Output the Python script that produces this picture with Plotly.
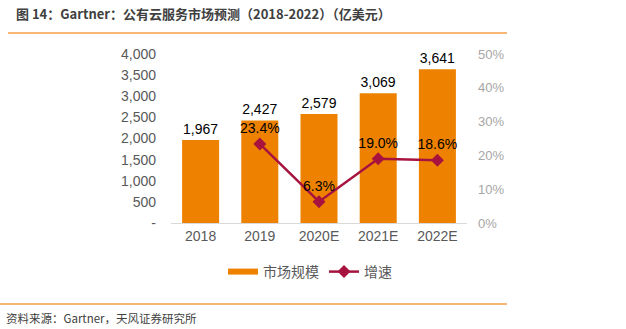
import plotly.graph_objects as go

categories = ["2018", "2019", "2020E", "2021E", "2022E"]
market_size = [1967, 2427, 2579, 3069, 3641]
growth = [None, 0.234, 0.063, 0.190, 0.186]
left_tickvals = [0, 500, 1000, 1500, 2000, 2500, 3000, 3500, 4000]
left_ticktext = ["-", "500", "1,000", "1,500", "2,000", "2,500", "3,000", "3,500", "4,000"]
right_tickvals = [0, 0.1, 0.2, 0.3, 0.4, 0.5]
right_ticktext = ["0%", "10%", "20%", "30%", "40%", "50%"]

W, H = 626, 329
L, R, T, B = 171, 159, 54, 106
pw, ph = W - L - R, H - T - B

def px(x):
    return (x - L) / pw

def py(y):
    return (H - B - y) / ph

num_font = "Liberation Sans, Arial, sans-serif"
cjk_font = "Noto Sans CJK SC, sans-serif"
bar_color = "#EE8200"
line_color = "#A8123E"

fig = go.Figure()
fig.add_trace(go.Bar(
    x=categories, y=market_size, name="市场规模", showlegend=False,
    marker=dict(color=bar_color, line=dict(width=0)),
    text=[f"{v:,}" for v in market_size], textposition="outside",
    textfont=dict(family=num_font, size=14, color="#000000"),
    cliponaxis=False,
))
# legend entry for bars (wide flat swatch like the reference)
fig.add_trace(go.Scatter(
    x=[None], y=[None], name="市场规模", mode="lines",
    line=dict(color=bar_color, width=6),
))
fig.add_trace(go.Scatter(
    x=categories, y=growth, name="增速", yaxis="y2",
    mode="lines+markers+text",
    line=dict(color=line_color, width=2.5),
    marker=dict(symbol="diamond", size=10, color=line_color),
    text=["" if g is None else f"{g*100:.1f}%" for g in growth],
    textposition="top center",
    textfont=dict(family=num_font, size=14, color="#000000"),
    cliponaxis=False,
))

fig.update_layout(
    width=W, height=H,
    margin=dict(l=L, r=R, t=T, b=B, pad=0),
    paper_bgcolor="white", plot_bgcolor="white",
    bargap=0.375,
    showlegend=True,
    legend=dict(orientation="h", x=px(310), y=py(272), xanchor="center", yanchor="middle",
                font=dict(family=cjk_font, size=14, color="#595959"),
                itemwidth=30, tracegroupgap=0, bgcolor="rgba(0,0,0,0)"),
    xaxis=dict(type="category", showgrid=False, showline=True, linecolor="#D9D9D9", linewidth=1,
               ticks="", tickfont=dict(family=num_font, size=14, color="#595959")),
    yaxis=dict(range=[0, 4000], tickvals=left_tickvals, ticktext=left_ticktext,
               showgrid=False, zeroline=False, showline=False, ticks="",
               ticklabelstandoff=14,
               tickfont=dict(family=num_font, size=14, color="#595959")),
    yaxis2=dict(range=[0, 0.5], overlaying="y", side="right", tickvals=right_tickvals,
                ticktext=right_ticktext, showgrid=False, zeroline=False, showline=False,
                ticks="", ticklabelstandoff=10,
                tickfont=dict(family=num_font, size=13, color="#A6A6A6")),
    shapes=[
        dict(type="line", xref="paper", yref="paper", x0=px(8), x1=px(507), y0=py(33), y1=py(33),
             line=dict(color="#F5A04A", width=1.5)),
        dict(type="line", xref="paper", yref="paper", x0=px(0), x1=px(507), y0=py(304), y1=py(304),
             line=dict(color="#F5A04A", width=1.5)),
    ],
    annotations=[
        dict(text="<b>图 14：Gartner：公有云服务市场预测（2018-2022）（亿美元）</b>", xref="paper", yref="paper",
             x=px(14), y=py(14), xanchor="left", yanchor="middle", showarrow=False,
             font=dict(family=cjk_font, size=13, color="#404040")),
        dict(text="资料来源：Gartner，天风证券研究所", xref="paper", yref="paper",
             x=px(4), y=py(318), xanchor="left", yanchor="middle", showarrow=False,
             font=dict(family=cjk_font, size=11.5, color="#404040")),
    ],
)

fig.write_html("out.html")
